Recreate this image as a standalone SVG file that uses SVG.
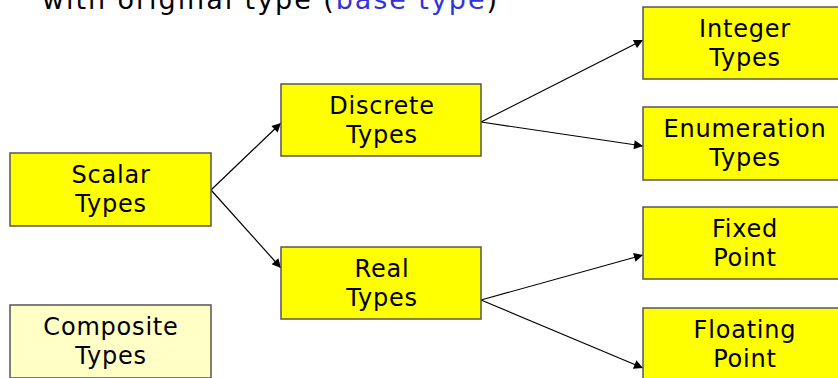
<svg xmlns="http://www.w3.org/2000/svg" width="838" height="378" viewBox="0 0 838 378">
<style>
.box{fill:#FFFF00;stroke:#555;stroke-width:1.5}
.pale{fill:#FFFFC6;stroke:#555;stroke-width:1.5}
.lbl{font-family:"DejaVu Sans",Verdana,sans-serif;font-size:24px;fill:#000;text-anchor:middle;letter-spacing:0.8px}
.con{stroke:#000;stroke-width:1.2;fill:none;marker-end:url(#ah)}
.top{font-family:"DejaVu Sans",Verdana,sans-serif;font-size:27px;fill:#000}
</style>
<defs>
<marker id="ah" viewBox="0 0 10 10" refX="10" refY="5" markerWidth="12" markerHeight="9" markerUnits="userSpaceOnUse" orient="auto">
<path d="M0,0 L10,5 L0,10 z" fill="#000"/>
</marker>
</defs>
<rect width="838" height="378" fill="#fff"/>
<text class="top" x="42" y="9" textLength="455" lengthAdjust="spacing">with original type (<tspan fill="#3333DD">base type</tspan>)</text>
<g id="connectors">
<line class="con" x1="211" y1="190" x2="281" y2="123"/>
<line class="con" x1="211" y1="190" x2="281" y2="268"/>
<line class="con" x1="481" y1="122" x2="643" y2="40"/>
<line class="con" x1="481" y1="122" x2="643" y2="146"/>
<line class="con" x1="481" y1="300" x2="643" y2="255"/>
<line class="con" x1="481" y1="300" x2="643" y2="368"/>
</g>
<g id="scalar"><rect class="box" x="10" y="153" width="201" height="73"/><text class="lbl" x="111" y="183">Scalar</text><text class="lbl" x="111" y="212">Types</text></g>
<g id="composite"><rect class="pale" x="10" y="305" width="201" height="73"/><text class="lbl" x="111" y="335">Composite</text><text class="lbl" x="111" y="364">Types</text></g>
<g id="discrete"><rect class="box" x="281" y="84" width="200" height="72"/><text class="lbl" x="382" y="114">Discrete</text><text class="lbl" x="382" y="143">Types</text></g>
<g id="real"><rect class="box" x="281" y="247" width="200" height="72"/><text class="lbl" x="382" y="277">Real</text><text class="lbl" x="382" y="306">Types</text></g>
<g id="integer"><rect class="box" x="643" y="7" width="202" height="72"/><text class="lbl" x="745" y="37">Integer</text><text class="lbl" x="745" y="66">Types</text></g>
<g id="enumeration"><rect class="box" x="643" y="107" width="202" height="73"/><text class="lbl" x="745" y="137">Enumeration</text><text class="lbl" x="745" y="166">Types</text></g>
<g id="fixed"><rect class="box" x="643" y="207" width="202" height="72"/><text class="lbl" x="745" y="237">Fixed</text><text class="lbl" x="745" y="266">Point</text></g>
<g id="floating"><rect class="box" x="643" y="308" width="202" height="72"/><text class="lbl" x="745" y="338">Floating</text><text class="lbl" x="745" y="367">Point</text></g>
</svg>
